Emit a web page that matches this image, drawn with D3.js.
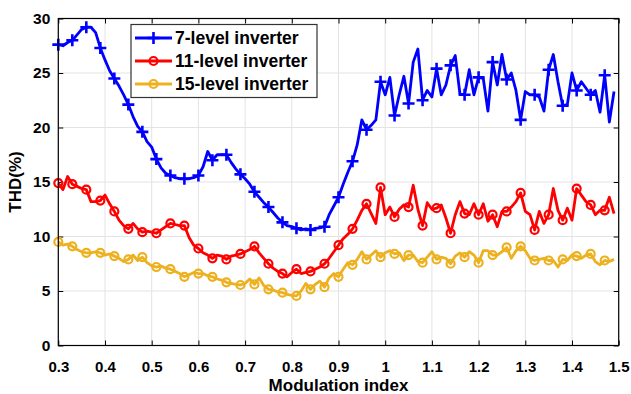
<!DOCTYPE html>
<html>
<head>
<meta charset="utf-8">
<script src="https://cdn.jsdelivr.net/npm/d3@7/dist/d3.min.js"></script>
<style>
body { margin: 0; background: #fff; }
text { font-family: "Liberation Sans", Arial, sans-serif; font-weight: bold; fill: #000; }
</style>
</head>
<body>
<svg width="631" height="394"></svg>
<script>
// modulation index 0.30 .. 1.49, step 0.01
var modIndex = d3.range(120).map(function(i) { return +(0.3 + i * 0.01).toFixed(2); });

var thd7 = [
  27.6, 27.5, 27.8, 28.0, 28.5, 29.0, 29.2, 29.2, 28.7, 27.3,
  26.2, 25.2, 24.5, 23.8, 23.0, 22.1, 21.0, 20.1, 19.6, 18.7,
  18.2, 17.1, 16.3, 15.8, 15.6, 15.4, 15.3, 15.3, 15.3, 15.4,
  15.6, 16.4, 17.8, 17.0, 17.5, 17.5, 17.5, 16.8, 16.2, 15.7,
  15.3, 14.8, 14.1, 13.6, 13.1, 12.7, 12.2, 11.7, 11.3, 11.0,
  10.9, 10.75, 10.6, 10.7, 10.6, 10.75, 10.8, 10.9, 12.0, 12.8,
  13.6, 14.8, 15.9, 16.9, 18.4, 20.7, 19.8, 20.2, 20.7, 24.2,
  23.0, 24.6, 21.1, 23.0, 24.7, 22.2, 26.0, 27.2, 22.5, 23.4,
  22.8, 25.4, 23.0, 23.9, 25.7, 26.6, 23.1, 23.0, 25.3, 23.0,
  24.6, 24.5, 21.5, 26.0, 23.9, 26.7, 24.4, 25.0, 23.4, 20.7,
  23.3, 23.0, 23.0, 22.8, 21.5, 25.3, 26.7, 24.2, 22.0, 22.1,
  25.0, 23.4, 24.2, 23.6, 23.0, 23.4, 21.4, 24.8, 20.5, 23.3
];

var thd11 = [
  14.9, 14.3, 15.5, 14.8, 14.6, 14.4, 14.3, 13.2, 13.2, 13.3,
  13.8, 13.0, 12.3, 11.5, 11.0, 10.7, 11.2, 10.7, 10.4, 10.5,
  10.4, 10.3, 10.6, 10.9, 11.2, 11.1, 11.0, 11.0, 9.9, 9.2,
  8.9, 8.5, 8.3, 8.0, 8.3, 8.2, 7.9, 8.2, 8.3, 8.4,
  8.6, 8.8, 9.1, 8.5, 8.0, 7.5, 7.1, 6.8, 6.6, 6.3,
  6.7, 7.0, 6.6, 6.7, 6.8, 7.0, 7.2, 7.5, 8.0, 8.6,
  9.2, 9.8, 10.2, 10.7, 11.5, 12.4, 13.0, 12.1, 11.2, 14.5,
  12.0, 12.7, 11.8, 12.5, 12.9, 12.7, 14.7, 12.5, 11.0, 13.1,
  12.5, 12.6, 12.9, 11.7, 10.3, 12.0, 13.2, 12.1, 12.0, 13.0,
  12.0, 13.0, 11.4, 12.0, 10.9, 12.3, 12.3, 12.7, 13.2, 14.0,
  12.3, 12.0, 10.6, 12.3, 11.2, 12.0, 14.4, 12.4, 11.5, 12.6,
  11.5, 14.4, 13.8, 13.2, 12.9, 12.0, 12.4, 12.4, 13.6, 12.1
];

var thd15 = [
  9.5, 9.2, 9.3, 9.1, 8.8, 8.6, 8.5, 8.5, 8.6, 8.5,
  8.3, 8.4, 8.2, 8.0, 7.7, 7.9, 8.3, 7.8, 8.1, 7.6,
  7.3, 7.2, 7.3, 7.1, 7.0, 6.8, 6.6, 6.3, 6.5, 6.7,
  6.6, 6.6, 6.4, 6.3, 6.1, 6.0, 5.8, 5.7, 5.6, 5.55,
  5.7, 6.1, 5.6, 6.2, 5.5, 5.15, 5.1, 4.9, 4.85, 4.7,
  4.6, 4.55, 5.0, 5.7, 5.15, 5.6, 5.9, 5.35, 6.2, 6.6,
  6.3, 7.0, 7.6, 7.4, 7.9, 8.6, 7.9, 8.3, 8.7, 8.1,
  8.5, 8.7, 8.4, 8.5, 7.8, 8.3, 8.3, 7.7, 7.6, 8.1,
  8.6, 7.9, 8.1, 8.0, 7.5, 8.2, 8.5, 8.1, 8.6, 8.3,
  7.6, 8.7, 8.7, 8.3, 8.3, 8.6, 9.0, 8.0, 8.7, 9.1,
  8.7, 8.0, 7.8, 7.9, 8.0, 7.8, 7.8, 7.2, 7.9, 7.8,
  8.3, 8.2, 8.0, 8.3, 8.4, 7.7, 7.4, 7.8, 7.7, 7.9
];

var seriesNames = ["7-level inverter", "11-level inverter", "15-level inverter"];
var seriesColors = ["#0000ff", "#ff0000", "#edb120"];
var seriesMarkers = ["plus", "circle", "circle"];
var xTicks = [0.3, 0.4, 0.5, 0.6, 0.7, 0.8, 0.9, 1, 1.1, 1.2, 1.3, 1.4, 1.5];
var yTicks = [0, 5, 10, 15, 20, 25, 30];

var svg = d3.select("svg"),
    margin = {top: 18.5, right: 12.3, bottom: 48.5, left: 58.3},
    width = +svg.attr("width") - margin.left - margin.right,
    height = +svg.attr("height") - margin.top - margin.bottom;

var x = d3.scaleLinear().domain([0.3, 1.5]).range([0, width]),
    y = d3.scaleLinear().domain([0, 30]).range([height, 0]);

var g = svg.append("g")
    .attr("transform", "translate(" + margin.left + "," + margin.top + ")");

// grid
g.append("g").selectAll("line").data(xTicks).enter().append("line")
    .attr("x1", function(d) { return x(d); }).attr("x2", function(d) { return x(d); })
    .attr("y1", 0).attr("y2", height)
    .attr("stroke", "#e3e3e3").attr("stroke-width", 1);
g.append("g").selectAll("line").data(yTicks).enter().append("line")
    .attr("y1", function(d) { return y(d); }).attr("y2", function(d) { return y(d); })
    .attr("x1", 0).attr("x2", width)
    .attr("stroke", "#e3e3e3").attr("stroke-width", 1);

// axes, ticks pointing inside on all four sides
var fmt = function(d) { return d3.format("")(d); };
var xAxis = g.append("g")
    .attr("transform", "translate(0," + height + ")")
    .call(d3.axisBottom(x).tickValues(xTicks).tickFormat(fmt).tickSizeInner(-5).tickSizeOuter(0).tickPadding(16));
var yAxis = g.append("g")
    .call(d3.axisLeft(y).tickValues(yTicks).tickSizeInner(-5).tickSizeOuter(0).tickPadding(8));
g.append("g")
    .call(d3.axisTop(x).tickValues(xTicks).tickFormat("").tickSizeInner(-5).tickSizeOuter(0));
g.append("g")
    .attr("transform", "translate(" + width + ",0)")
    .call(d3.axisRight(y).tickValues(yTicks).tickFormat("").tickSizeInner(-5).tickSizeOuter(0));

g.selectAll(".domain").remove();
g.selectAll(".tick line").attr("stroke", "#000");
xAxis.selectAll("text").style("font-size", "15px");
yAxis.selectAll("text").style("font-size", "15.5px");

var allSeries = [thd7, thd11, thd15];

var line = d3.line()
    .x(function(d, i) { return x(modIndex[i]); })
    .y(function(d) { return y(d); });

function drawMarker(sel, type, color) {
  if (type === "plus") {
    sel.append("path")
      .attr("d", "M-6,0H6M0,-6V6")
      .attr("stroke", color).attr("stroke-width", 2.6).attr("fill", "none");
  } else {
    sel.append("circle")
      .attr("r", 4)
      .attr("stroke", color).attr("stroke-width", 2.2).attr("fill", "none");
  }
}

allSeries.forEach(function(vals, k) {
  g.append("path")
    .datum(vals)
    .attr("fill", "none")
    .attr("stroke", seriesColors[k])
    .attr("stroke-width", 2.8)
    .attr("stroke-linejoin", "round")
    .attr("d", line);

  var pts = vals.map(function(v, i) { return {m: modIndex[i], v: v, i: i}; })
    .filter(function(d) { return d.i % 3 === 0; });

  g.append("g").selectAll("g").data(pts).enter().append("g")
    .attr("transform", function(d) { return "translate(" + x(d.m) + "," + y(d.v) + ")"; })
    .each(function() { drawMarker(d3.select(this), seriesMarkers[k], seriesColors[k]); });
});

// box
g.append("rect")
  .attr("width", width).attr("height", height)
  .attr("fill", "none").attr("stroke", "#000").attr("stroke-width", 1.2);

// legend
var legend = svg.append("g").attr("transform", "translate(131,24.5)");
legend.append("rect")
  .attr("width", 186).attr("height", 73)
  .attr("fill", "#fff").attr("stroke", "#333").attr("stroke-width", 1.2);
seriesNames.forEach(function(name, k) {
  var row = legend.append("g").attr("transform", "translate(0," + (13.5 + k * 23) + ")");
  row.append("line").attr("x1", 4).attr("x2", 41)
    .attr("stroke", seriesColors[k]).attr("stroke-width", 2.8);
  drawMarker(row.append("g").attr("transform", "translate(22.5,0)"), seriesMarkers[k], seriesColors[k]);
  row.append("text").attr("x", 44).attr("dy", "0.35em")
    .style("font-size", "17.5px").text(name);
});

// axis titles
svg.append("text")
  .attr("x", margin.left + width / 2).attr("y", 391)
  .attr("text-anchor", "middle").style("font-size", "17px")
  .text("Modulation index");
svg.append("text")
  .attr("transform", "translate(21," + (margin.top + height / 2) + ") rotate(-90)")
  .attr("text-anchor", "middle").style("font-size", "17px")
  .text("THD(%)");
</script>
</body>
</html>
